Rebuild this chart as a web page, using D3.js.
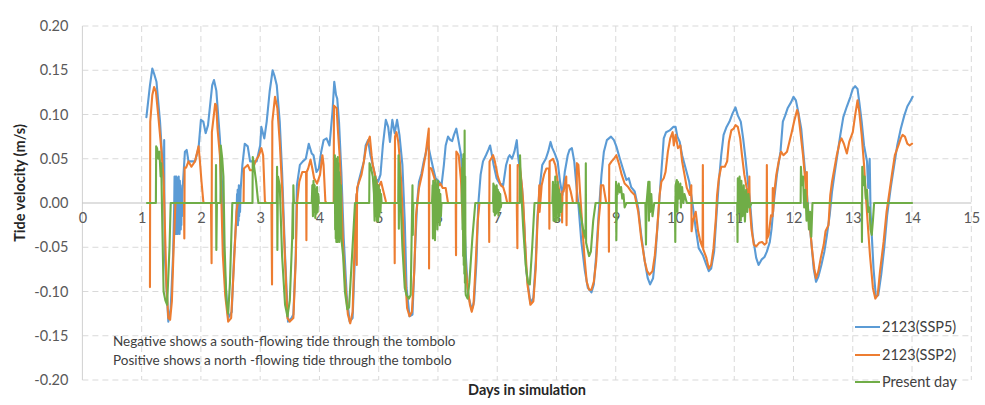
<!DOCTYPE html>
<html>
<head>
<meta charset="utf-8">
<script src="https://cdn.jsdelivr.net/npm/d3@7"></script>
<style>
  html, body { margin: 0; padding: 0; background: #fff; }
  svg { display: block; font-family: Lato, "Open Sans", sans-serif; }
</style>
</head>
<body>
<svg id="chart" width="985" height="405"></svg>
<script>
// Tide velocity through the tombolo, [day, m/s]
const ssp5 = [
  [1.08,0.097],[1.14,0.133],[1.18,0.152],[1.21,0.146],[1.25,0.137],[1.31,0.092],[1.35,0.047],[1.375,0.02],[1.38,0.071],[1.385,-0.02],
  [1.39,-0.059],[1.45,-0.134],[1.49,-0.119],[1.53,-0.059],[1.55,0.0],
  [1.555,0.03],[1.56,-0.03],[1.565,0.025],[1.57,-0.035],[1.575,0.03],[1.58,-0.025],[1.585,0.03],[1.59,-0.035],[1.595,0.02],[1.60,-0.03],
  [1.605,0.028],[1.61,-0.035],[1.615,0.025],[1.62,-0.03],[1.625,0.03],[1.63,-0.025],[1.635,0.02],[1.64,-0.035],[1.645,0.025],[1.65,-0.03],
  [1.655,0.02],[1.66,-0.03],[1.665,0.015],[1.67,-0.025],[1.675,0.01],[1.68,-0.015],[1.69,0.015],
  [1.73,0.058],[1.76,0.06],[1.79,0.047],[1.84,0.047],[1.90,0.047],[1.96,0.062],[2.0,0.094],
  [2.04,0.092],[2.08,0.079],[2.12,0.088],[2.19,0.133],[2.22,0.139],[2.26,0.127],[2.32,0.073],[2.36,0.017],[2.40,-0.077],[2.46,-0.130],
  [2.52,-0.123],[2.56,-0.059],[2.60,-0.014],[2.61,0.01],[2.615,-0.02],[2.62,0.015],[2.625,-0.025],[2.63,0.01],[2.635,-0.02],[2.64,0.02],
  [2.645,-0.015],[2.65,0.01],[2.66,-0.01],[2.67,0.015],[2.70,0.043],[2.74,0.067],[2.79,0.064],[2.83,0.047],[2.87,0.047],[2.94,0.047],
  [3.0,0.065],[3.02,0.086],[3.07,0.073],[3.11,0.092],[3.16,0.126],[3.21,0.150],[3.24,0.144],[3.28,0.133],[3.33,0.092],[3.37,0.035],
  [3.42,-0.059],[3.47,-0.134],[3.53,-0.13],[3.56,-0.126],[3.60,-0.059],[3.62,0.020],[3.67,0.043],[3.72,0.047],[3.77,0.050],[3.82,0.067],
  [3.87,0.056],[3.90,0.054],[3.95,0.035],[3.99,0.039],[4.03,0.058],[4.07,0.071],[4.12,0.073],[4.17,0.065],[4.22,0.103],[4.25,0.137],
  [4.28,0.122],[4.30,0.118],[4.33,0.092],[4.37,0.035],[4.41,-0.04],[4.46,-0.104],[4.51,-0.134],[4.56,-0.130],[4.60,-0.059],[4.62,0.005],
  [4.66,0.024],[4.71,0.037],[4.75,0.047],[4.78,0.065],[4.82,0.071],[4.86,0.054],[4.90,0.043],[4.95,0.028],[4.99,0.024],[5.03,0.032],
  [5.07,0.065],[5.12,0.094],[5.16,0.086],[5.19,0.069],[5.23,0.094],[5.27,0.079],[5.31,0.094],[5.35,0.077],[5.40,0.043],[5.44,-0.021],
  [5.47,-0.096],[5.52,-0.128],[5.57,-0.126],[5.61,-0.059],[5.65,0.002],[5.68,0.024],[5.72,0.033],[5.76,0.047],[5.80,0.058],[5.83,0.067],
  [5.87,0.054],[5.92,0.039],[5.96,0.028],[6.02,0.024],[6.06,0.020],[6.10,0.043],[6.13,0.065],[6.17,0.075],[6.21,0.071],[6.24,0.07],
  [6.27,0.077],[6.31,0.084],[6.34,0.073],[6.39,0.054],[6.43,0.009],[6.47,-0.059],[6.51,-0.104],[6.57,-0.121],[6.61,-0.111],[6.65,-0.066],
  [6.68,-0.002],[6.72,0.032],[6.76,0.047],[6.81,0.054],[6.85,0.060],[6.88,0.065],[6.90,0.058],[6.94,0.043],[6.99,0.028],[7.04,0.022],
  [7.10,0.020],[7.15,0.043],[7.19,0.052],[7.21,0.054],[7.25,0.050],[7.29,0.058],[7.33,0.071],[7.35,0.054],[7.38,0.039],[7.42,0.017],
  [7.46,-0.029],[7.49,-0.077],[7.56,-0.113],[7.61,-0.107],[7.65,-0.066],[7.68,-0.014],[7.72,0.020],[7.76,0.043],[7.82,0.050],[7.86,0.058],
  [7.90,0.069],[7.93,0.062],[7.97,0.056],[8.02,0.047],[8.06,0.024],[8.10,0.009],[8.14,0.035],[8.19,0.054],[8.22,0.060],[8.26,0.062],
  [8.30,0.047],[8.33,0.024],[8.37,-0.002],[8.42,-0.044],[8.48,-0.077],[8.53,-0.096],[8.59,-0.101],[8.63,-0.092],[8.67,-0.059],[8.71,-0.014],
  [8.76,0.032],[8.80,0.058],[8.85,0.071],[8.92,0.075],[8.97,0.071],[9.01,0.064],[9.07,0.050],[9.12,0.039],[9.18,0.026],[9.22,0.028],
  [9.26,0.018],[9.32,0.013],[9.38,-0.006],[9.43,-0.036],[9.49,-0.066],[9.54,-0.085],[9.58,-0.092],[9.63,-0.085],[9.67,-0.059],[9.71,-0.021],
  [9.75,0.017],[9.79,0.054],[9.81,0.073],[9.85,0.080],[9.91,0.082],[9.97,0.086],[10.01,0.086],[10.04,0.075],[10.08,0.069],[10.12,0.054],
  [10.18,0.039],[10.24,0.024],[10.29,0.002],[10.35,-0.029],[10.40,-0.051],[10.47,-0.059],[10.53,-0.070],[10.57,-0.077],[10.61,-0.074],[10.66,-0.055],
  [10.70,-0.014],[10.74,0.024],[10.78,0.054],[10.82,0.077],[10.87,0.086],[10.92,0.092],[10.97,0.101],[11.02,0.108],[11.06,0.099],[11.11,0.092],
  [11.15,0.073],[11.19,0.050],[11.23,0.024],[11.27,-0.002],[11.31,-0.036],[11.37,-0.062],[11.41,-0.070],[11.46,-0.064],[11.51,-0.061],[11.55,-0.055],
  [11.60,-0.044],[11.63,-0.029],[11.67,0.002],[11.72,0.032],[11.78,0.058],[11.82,0.092],[11.86,0.099],[11.90,0.107],[11.96,0.114],[12.0,0.120],
  [12.04,0.116],[12.08,0.103],[12.13,0.084],[12.17,0.054],[12.21,0.024],[12.25,-0.010],[12.30,-0.044],[12.34,-0.074],[12.38,-0.089],[12.42,-0.083],
  [12.47,-0.070],[12.52,-0.055],[12.56,-0.038],[12.61,-0.014],[12.65,0.013],[12.69,0.032],[12.73,0.050],[12.79,0.077],[12.84,0.097],[12.90,0.109],
  [12.96,0.120],[13.0,0.129],[13.04,0.132],[13.08,0.129],[13.11,0.114],[13.15,0.092],[13.19,0.065],[13.24,0.047],[13.26,0.017],[13.285,0.050],
  [13.30,-0.01],[13.35,-0.074],[13.39,-0.106],[13.43,-0.104],[13.48,-0.081],[13.53,-0.051],[13.58,-0.014],[13.64,0.017],[13.70,0.043],[13.75,0.065],
  [13.81,0.084],[13.87,0.099],[13.92,0.109],[13.98,0.116],[14.01,0.120]
];

const ssp2 = [
  [1.14,-0.095],[1.145,0.092],[1.18,0.122],[1.21,0.131],[1.24,0.126],[1.28,0.099],[1.33,0.062],[1.37,0.028],[1.39,-0.021],[1.42,-0.096],
  [1.45,-0.130],[1.48,-0.132],[1.51,-0.111],[1.54,-0.05],[1.57,0.0],[1.715,0.0],[1.72,-0.04],[1.725,0.04],[1.75,0.04],[1.79,0.047],
  [1.84,0.041],[1.90,0.047],[1.96,0.064],[1.98,0.050],[2.01,0.024],[2.04,0.002],[2.05,0.0],[2.17,0.0],[2.18,-0.068],[2.185,0.08],
  [2.24,0.112],[2.26,0.11],[2.28,0.084],[2.32,0.054],[2.34,0.017],[2.37,-0.059],[2.41,-0.104],[2.46,-0.134],[2.51,-0.13],[2.56,-0.066],
  [2.60,-0.010],[2.62,0.0],[2.72,0.0],[2.725,0.039],[2.79,0.043],[2.83,0.037],[2.87,0.037],[2.92,0.047],[2.98,0.054],[3.02,0.062],
  [3.05,0.054],[3.08,0.002],[3.10,0.0],[3.19,0.0],[3.20,-0.092],[3.205,0.092],[3.25,0.120],[3.29,0.107],[3.33,0.069],[3.37,0.017],
  [3.42,-0.066],[3.46,-0.130],[3.50,-0.134],[3.56,-0.130],[3.60,-0.066],[3.62,-0.002],[3.66,0.024],[3.71,0.035],[3.775,0.035],[3.78,-0.042],
  [3.785,0.035],[3.81,0.039],[3.85,0.049],[3.88,0.039],[3.91,0.028],[3.96,0.022],[4.01,0.032],[4.05,0.054],[4.07,0.043],[4.10,0.002],
  [4.12,0.0],[4.24,0.0],[4.245,0.11],[4.29,0.107],[4.31,0.084],[4.34,0.054],[4.37,0.009],[4.40,-0.051],[4.44,-0.096],[4.48,-0.126],
  [4.52,-0.136],[4.56,-0.123],[4.58,-0.077],[4.61,-0.014],[4.625,0.01],[4.63,-0.07],[4.635,0.017],[4.71,0.032],[4.75,0.047],[4.79,0.064],
  [4.85,0.075],[4.88,0.054],[4.90,0.043],[4.95,0.028],[4.99,0.017],[5.04,0.024],[5.08,0.013],[5.12,0.002],[5.13,0.0],[5.265,0.0],
  [5.27,-0.068],[5.275,0.075],[5.30,0.08],[5.33,0.069],[5.35,0.054],[5.38,0.024],[5.41,-0.021],[5.44,-0.077],[5.48,-0.119],[5.52,-0.128],
  [5.56,-0.123],[5.60,-0.077],[5.63,-0.014],[5.68,0.017],[5.73,0.032],[5.79,0.054],[5.81,0.065],[5.845,0.084],[5.85,-0.074],[5.855,0.04],
  [5.89,0.039],[5.94,0.028],[5.98,0.017],[6.04,0.022],[6.08,0.017],[6.13,0.017],[6.17,0.0],[6.30,0.0],[6.305,-0.059],[6.31,0.058],
  [6.35,0.054],[6.39,0.024],[6.42,-0.02],[6.45,-0.059],[6.50,-0.096],[6.54,-0.115],[6.57,-0.123],[6.60,-0.115],[6.63,-0.077],[6.67,-0.021],
  [6.70,0.0],[6.86,0.0],[6.865,-0.044],[6.87,0.047],[6.93,0.054],[6.96,0.047],[7.01,0.030],[7.06,0.020],[7.10,0.018],[7.14,0.009],
  [7.17,0.0],[7.21,0.0],[7.215,0.043],[7.22,0.0],[7.33,0.0],[7.34,-0.051],[7.345,0.043],[7.38,0.043],[7.41,0.024],[7.44,0.0],
  [7.47,-0.044],[7.51,-0.092],[7.56,-0.115],[7.61,-0.111],[7.65,-0.074],[7.68,-0.021],[7.70,0.0],[7.71,0.02],[7.715,-0.01],[7.75,0.020],
  [7.79,0.032],[7.83,0.039],[7.875,0.039],[7.88,-0.029],[7.885,0.047],[7.94,0.050],[7.98,0.043],[8.02,0.024],[8.06,0.009],[8.09,0.01],
  [8.095,-0.022],[8.10,0.013],[8.12,0.013],[8.165,0.03],[8.17,-0.025],[8.175,0.02],[8.21,0.020],[8.24,0.013],[8.28,0.0],[8.34,0.0],
  [8.345,0.045],[8.37,0.043],[8.40,0.01],[8.44,-0.03],[8.47,-0.059],[8.51,-0.089],[8.55,-0.098],[8.59,-0.098],[8.63,-0.089],[8.67,-0.066],
  [8.71,-0.021],[8.74,0.0],[8.75,0.02],[8.79,0.02],[8.84,0.0],[8.88,0.0],[8.885,-0.055],[8.89,0.043],[8.93,0.047],[8.97,0.050],
  [9.01,0.054],[9.06,0.043],[9.10,0.032],[9.15,0.022],[9.21,0.018],[9.26,0.013],[9.32,0.009],[9.38,-0.010],[9.43,-0.040],[9.49,-0.066],
  [9.53,-0.077],[9.57,-0.081],[9.62,-0.077],[9.66,-0.059],[9.70,-0.029],[9.74,0.009],[9.77,0.024],[9.81,0.028],[9.84,0.035],[9.88,0.058],
  [9.92,0.073],[9.96,0.080],[9.98,0.065],[10.01,0.077],[10.05,0.062],[10.09,0.065],[10.12,0.047],[10.16,0.032],[10.20,0.017],[10.25,0.009],
  [10.275,0.02],[10.28,-0.032],[10.30,-0.021],[10.35,-0.010],[10.39,-0.032],[10.43,-0.044],[10.465,-0.05],[10.47,0.043],[10.475,-0.052],[10.53,-0.062],
  [10.57,-0.074],[10.61,-0.070],[10.65,-0.051],[10.69,-0.017],[10.71,0.009],[10.74,0.028],[10.78,0.041],[10.84,0.041],[10.88,0.047],[10.91,0.069],
  [10.95,0.082],[10.99,0.084],[11.02,0.088],[11.06,0.086],[11.10,0.073],[11.13,0.054],[11.17,0.032],[11.21,0.017],[11.25,0.005],[11.255,0.03],
  [11.26,-0.002],[11.29,-0.029],[11.33,-0.047],[11.37,-0.049],[11.42,-0.045],[11.47,-0.044],[11.51,-0.047],[11.545,-0.045],[11.55,0.043],[11.555,-0.04],
  [11.58,-0.036],[11.62,-0.014],[11.645,-0.015],[11.65,0.017],[11.655,-0.01],[11.67,0.009],[11.71,0.032],[11.75,0.047],[11.79,0.058],[11.83,0.054],
  [11.89,0.058],[11.93,0.069],[11.97,0.080],[12.01,0.092],[12.06,0.105],[12.08,0.101],[12.11,0.084],[12.16,0.054],[12.20,0.024],[12.22,0.009],
  [12.225,0.035],[12.23,-0.01],[12.27,-0.021],[12.31,-0.051],[12.35,-0.074],[12.38,-0.085],[12.42,-0.077],[12.46,-0.062],[12.51,-0.047],[12.54,-0.032],
  [12.59,-0.025],[12.62,0.009],[12.65,0.024],[12.69,0.039],[12.73,0.054],[12.78,0.069],[12.81,0.073],[12.85,0.067],[12.90,0.056],[12.94,0.069],
  [13.0,0.080],[13.04,0.099],[13.08,0.116],[13.11,0.103],[13.15,0.077],[13.19,0.043],[13.22,0.009],[13.25,-0.021],[13.29,-0.059],[13.34,-0.096],
  [13.38,-0.108],[13.42,-0.104],[13.46,-0.077],[13.52,-0.044],[13.57,-0.010],[13.62,0.013],[13.66,0.032],[13.71,0.054],[13.77,0.065],[13.81,0.073],
  [13.84,0.077],[13.88,0.075],[13.92,0.067],[13.96,0.065],[14.0,0.067]
];

const presentDay = [
  [1.09,0],[1.24,0],[1.245,0.064],[1.26,0.062],[1.28,0.05],[1.30,0.058],[1.32,0.03],[1.33,0.045],[1.35,-0.03],[1.37,-0.1],
  [1.40,-0.11],[1.43,-0.115],[1.47,-0.05],[1.49,0],[2.25,0],[2.255,0.043],[2.26,-0.053],[2.27,0],[2.33,0],[2.335,0.065],
  [2.36,0.05],[2.38,0.03],[2.40,-0.05],[2.43,-0.11],[2.46,-0.125],[2.49,-0.09],[2.53,0],[2.87,0],[2.875,0.052],[2.90,0.04],
  [2.93,0.025],[2.96,0.005],[2.97,0],[3.28,0],[3.285,0.041],[3.29,-0.053],[3.30,0.03],[3.33,0.02],[3.37,-0.06],[3.42,-0.115],
  [3.46,-0.128],[3.50,-0.11],[3.54,-0.04],[3.55,0],[3.555,-0.04],[3.56,0.02],[3.57,0],[3.87,0],[3.88,0.02],[3.89,-0.015],
  [3.90,0.025],[3.91,-0.01],[3.92,0.02],[3.93,-0.017],[3.94,0.015],[3.95,-0.012],[3.96,0.018],[3.97,-0.01],[3.98,0.01],[3.99,0],
  [4.25,0],[4.26,0.054],[4.265,-0.03],[4.27,0.05],[4.275,-0.04],[4.28,0.045],[4.285,-0.044],[4.29,0.05],[4.295,-0.035],[4.30,0.04],
  [4.305,-0.044],[4.31,0.052],[4.315,-0.03],[4.32,0.045],[4.325,-0.04],[4.33,0.035],[4.335,-0.044],[4.34,0.03],[4.35,-0.03],[4.36,0.02],
  [4.37,-0.04],[4.40,-0.06],[4.43,-0.10],[4.47,-0.12],[4.50,-0.118],[4.55,-0.06],[4.60,0],[4.84,0],[4.845,0.045],[4.87,0.04],
  [4.90,0.03],[4.92,0.01],[4.93,-0.02],[4.94,0.03],[4.95,-0.015],[4.96,0.025],[4.97,-0.02],[4.98,0.02],[4.99,-0.021],[5.00,0.02],
  [5.01,-0.015],[5.02,0.015],[5.03,-0.01],[5.04,0.01],[5.05,0],[5.33,0],[5.335,0.054],[5.34,-0.029],[5.345,0.045],[5.36,0.02],
  [5.40,-0.05],[5.44,-0.096],[5.47,-0.104],[5.51,-0.108],[5.54,-0.104],[5.57,0.02],[5.575,-0.036],[5.585,0],[5.90,0],[5.91,0.02],
  [5.915,-0.04],[5.92,0.025],[5.93,-0.03],[5.94,0.022],[5.95,-0.042],[5.96,0.026],[5.97,-0.02],[5.98,0.02],[5.99,-0.03],[6.00,0.025],
  [6.01,-0.02],[6.02,0.015],[6.03,-0.025],[6.04,0.01],[6.05,-0.015],[6.06,0],[6.40,0],[6.41,0.04],[6.415,-0.03],[6.42,0.05],
  [6.425,-0.06],[6.43,0.055],[6.435,-0.07],[6.44,0.045],[6.445,-0.08],[6.45,0.082],[6.455,-0.09],[6.46,0.03],[6.465,-0.1],[6.47,-0.104],
  [6.50,-0.108],[6.53,-0.09],[6.58,-0.04],[6.63,0],[6.93,0],[6.935,0.022],[6.94,-0.01],[6.95,0.02],[6.96,-0.014],[6.97,0.018],
  [6.98,-0.012],[6.99,0.02],[7.00,-0.01],[7.01,0.015],[7.02,-0.014],[7.03,0.012],[7.04,-0.008],[7.05,0.01],[7.06,-0.005],[7.07,0],
  [7.38,0],[7.385,0.054],[7.40,0.02],[7.42,-0.005],[7.44,-0.03],[7.48,-0.07],[7.52,-0.09],[7.55,-0.092],[7.59,-0.05],[7.63,0],
  [7.93,0],[7.94,0.024],[7.95,-0.02],[7.96,0.02],[7.97,-0.015],[7.98,0.03],[7.99,-0.021],[8.00,0.02],[8.01,-0.01],[8.02,0.024],
  [8.03,-0.02],[8.04,0.015],[8.05,-0.015],[8.06,0.01],[8.08,-0.01],[8.10,0],[8.38,0],[8.40,-0.01],[8.45,-0.03],[8.49,-0.04],
  [8.495,0.045],[8.50,-0.045],[8.55,-0.06],[8.58,-0.055],[8.62,-0.02],[8.66,0],[9.00,0],[9.005,0.024],[9.01,-0.042],[9.02,0.02],
  [9.03,0.01],[9.05,0.022],[9.07,0.012],[9.09,0.018],[9.11,0.005],[9.13,0.01],[9.15,-0.005],[9.18,0],[9.50,0],[9.51,-0.047],
  [9.52,0],[9.55,0.024],[9.56,-0.02],[9.57,0.024],[9.58,-0.01],[9.60,0.01],[9.62,-0.015],[9.65,0],[10.0,0],[10.005,-0.044],
  [10.01,0.02],[10.03,0.026],[10.04,-0.01],[10.05,0.024],[10.07,0.005],[10.09,0.022],[10.10,-0.005],[10.12,0.018],[10.14,0],[10.16,0.01],
  [10.20,0],[11.05,0],[11.055,-0.044],[11.06,0.028],[11.08,-0.01],[11.09,0.03],[11.11,-0.02],[11.12,0.025],[11.14,-0.015],[11.16,0.02],
  [11.18,-0.021],[11.20,0.015],[11.22,-0.01],[11.24,0.01],[11.26,-0.005],[11.29,0],[12.12,0],[12.125,0.041],[12.14,0.02],[12.16,0.03],
  [12.18,-0.005],[12.20,0.015],[12.22,-0.02],[12.24,0],[12.26,-0.03],[12.28,-0.01],[12.30,-0.038],[12.32,0],[13.15,0],[13.155,-0.044],
  [13.16,0.041],[13.18,0.02],[13.20,0.03],[13.22,0.005],[13.24,0.015],[13.26,-0.01],[13.28,-0.005],[13.30,-0.03],[13.32,-0.036],[13.34,-0.02],
  [13.36,0],[14.0,0]
];

const seriesNames = ["2123(SSP5)", "2123(SSP2)", "Present day"];
const seriesColors = ["#5B9BD5", "#ED7D31", "#70AD47"];
const xTicks = d3.range(0, 16, 1);
const yTicks = [-0.20, -0.15, -0.10, -0.05, 0.00, 0.05, 0.10, 0.15, 0.20];
const notes = [
  "Negative shows a south-flowing tide through the tombolo",
  "Positive shows a north -flowing tide through the tombolo"
];

const svg = d3.select("#chart");
const x = d3.scaleLinear().domain([0, 15]).range([82.4, 971.3]);
const y = d3.scaleLinear().domain([-0.2, 0.2]).range([380, 26]);

const grid = svg.append("g");
// horizontal dashed gridlines
grid.selectAll("line.h").data(yTicks.filter(v => Math.abs(v) > 1e-9)).enter()
  .append("line")
  .attr("x1", x(0)).attr("x2", x(15))
  .attr("y1", d => y(d)).attr("y2", d => y(d))
  .attr("stroke", "#D9D9D9").attr("stroke-width", 1).attr("stroke-dasharray", "6,4");
// vertical dashed gridlines
grid.selectAll("line.v").data(xTicks.filter(v => v > 0)).enter()
  .append("line")
  .attr("x1", d => x(d)).attr("x2", d => x(d))
  .attr("y1", y(0.2)).attr("y2", y(-0.2))
  .attr("stroke", "#D9D9D9").attr("stroke-width", 1).attr("stroke-dasharray", "6,4");
// value axis line and zero line
grid.append("line")
  .attr("x1", x(0)).attr("x2", x(0)).attr("y1", y(0.2)).attr("y2", y(-0.2))
  .attr("stroke", "#D0D0D0").attr("stroke-width", 1);
grid.append("line")
  .attr("x1", x(0)).attr("x2", x(15)).attr("y1", y(0)).attr("y2", y(0))
  .attr("stroke", "#BFBFBF").attr("stroke-width", 1.2);

// y tick labels, written with a plain hyphen for negatives
const fmt2 = d3.format(".2f");
const yAxis = d3.axisLeft(y).tickValues(yTicks)
  .tickFormat(d => fmt2(d).replace("\u2212", "-")).tickSize(0).tickPadding(14);
const gy = svg.append("g").attr("transform", `translate(${x(0)},0)`).call(yAxis);
gy.select(".domain").remove();
gy.selectAll("text").attr("font-family", "Lato, sans-serif").attr("font-size", 14.5).attr("fill", "#595959");

// x tick labels sit just under the zero line
const xAxis = d3.axisBottom(x).tickValues(xTicks).tickFormat(d3.format("d")).tickSize(0).tickPadding(10);
const gx = svg.append("g").attr("transform", `translate(0,${y(0)})`).call(xAxis);
gx.select(".domain").remove();
gx.selectAll("text").attr("font-family", "Lato, sans-serif").attr("font-size", 14.5).attr("fill", "#595959");

// series
const line = d3.line().x(d => x(d[0])).y(d => y(d[1]));
const seriesData = [ssp5, ssp2, presentDay];
svg.append("g").selectAll("path").data(seriesData).enter()
  .append("path")
  .attr("d", line)
  .attr("fill", "none")
  .attr("stroke", (d, i) => seriesColors[i])
  .attr("stroke-width", 2.1)
  .attr("stroke-linejoin", "round")
  .attr("stroke-linecap", "round");

// axis titles
svg.append("text")
  .attr("x", 527).attr("y", 395)
  .attr("text-anchor", "middle")
  .attr("font-size", 14.5).attr("font-weight", "bold").attr("fill", "#262626")
  .text("Days in simulation");
svg.append("text")
  .attr("transform", "translate(25,183) rotate(-90)")
  .attr("text-anchor", "middle")
  .attr("font-size", 14.5).attr("font-weight", "bold").attr("fill", "#262626")
  .text("Tide velocity (m/s)");

// note on flow direction
svg.append("g").selectAll("text").data(notes).enter()
  .append("text")
  .attr("x", 113).attr("y", (d, i) => 346 + i * 19)
  .attr("font-size", 13.5).attr("fill", "#404040")
  .text(d => d);

// legend
const legendY = [327, 355, 382];
const lg = svg.append("g").selectAll("g").data(seriesNames).enter().append("g");
lg.append("line")
  .attr("x1", 855).attr("x2", 880)
  .attr("y1", (d, i) => legendY[i]).attr("y2", (d, i) => legendY[i])
  .attr("stroke", (d, i) => seriesColors[i]).attr("stroke-width", 2);
lg.append("text")
  .attr("x", 882).attr("y", (d, i) => legendY[i] + 5)
  .attr("font-size", 14.5).attr("fill", "#404040")
  .text(d => d);
</script>
</body>
</html>
